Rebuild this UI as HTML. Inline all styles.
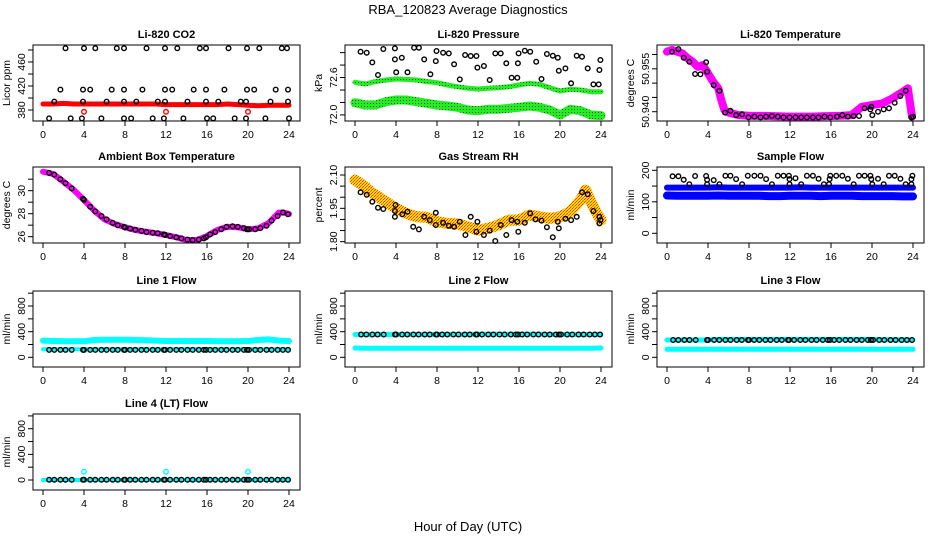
<!DOCTYPE html>
<html><head><meta charset="utf-8"><title>RBA_120823 Average Diagnostics</title>
<style>
html,body{margin:0;padding:0;background:#fff;}
svg{display:block;font-family:"Liberation Sans",Arial,sans-serif;}
</style></head>
<body>
<svg id="chart" width="936" height="540" viewBox="0 0 936 540" xmlns="http://www.w3.org/2000/svg">
<defs>
<pattern id="greenDots" width="3" height="3" patternUnits="userSpaceOnUse"><rect width="3" height="3" fill="#22ee22"/><rect x="1" y="1" width="1" height="1" fill="#115511"/></pattern>
<pattern id="orangeChk" width="3" height="3" patternUnits="userSpaceOnUse"><rect width="3" height="3" fill="#ffdd00"/><rect width="1" height="1" fill="#ff3000"/><rect x="2" y="1" width="1" height="1" fill="#ff3000"/><rect x="1" y="2" width="1" height="1" fill="#ff7000"/></pattern>
</defs>
<text x="468" y="14" text-anchor="middle" font-size="13">RBA_120823  Average Diagnostics</text>
<text x="468" y="531" text-anchor="middle" font-size="13">Hour of Day (UTC)</text>
<g id="plots"></g>
</svg>
<script>
// ---------- data ----------
const xTicks=[0,4,8,12,16,20,24];
// CO2
const co2BandHours=[0,1,2,3,4,5,6,7,8,9,10,11,12,13,14,15,16,17,18,19,20,21,22,23,24];
const co2Band=[390,390,391,390,390,390,390,390,390,390,390,390,389,389,389,389,389,389,390,389,388,387,388,388,388];
const co2RedHours=[4,12,20];
const co2Red=[377,377,377];
const co2BlackHours=[2.2,4.0,5.1,7.2,7.9,10.1,11.9,13.1,15.3,15.9,18.1,19.9,21.1,23.3,23.8,
1.7,3.9,4.6,6.7,7.9,9.7,11.9,12.6,14.7,15.9,17.7,19.9,20.6,22.7,23.9,
1.1,3.9,6.2,7.9,9.1,11.2,11.9,14.1,15.9,17.1,19.3,19.8,22.2,23.9,
0.6,2.7,3.8,5.7,7.9,8.6,10.7,11.8,13.7,16.0,16.6,18.7,19.8,21.7,24.0];
const co2Black=[483,483,483,483,483,483,483,483,483,483,483,483,483,483,483,
414,414,414,414,414,414,414,414,414,414,414,414,414,414,414,
394,394,394,394,394,394,394,394,394,394,394,394,394,394,
366,366,366,366,366,366,366,366,366,366,366,366,366,366,366];
// Pressure
const presHours=[0,1,2,3,4,5,6,7,8,9,10,11,12,13,14,15,16,17,18,19,20,21,22,23,24];
const presUpper=[72.455,72.432,72.464,72.486,72.5,72.495,72.486,72.464,72.45,72.418,72.395,72.373,72.364,72.373,72.382,72.395,72.418,72.441,72.427,72.382,72.336,72.359,72.35,72.327,72.327];
const presLower=[72.177,72.145,72.145,72.191,72.214,72.214,72.191,72.168,72.145,72.132,72.114,72.077,72.068,72.086,72.086,72.1,72.114,72.132,72.114,72.077,72.009,72.086,72.068,72.009,72.0];
const presBlackHours=[0.55,1.14,1.69,2.24,2.76,3.89,3.89,4.02,4.57,5.12,5.77,6.23,6.75,7.36,7.88,7.95,8.6,9.15,9.67,10.22,10.74,11.29,11.84,11.94,12.58,13.14,13.69,14.21,14.76,15.28,15.83,15.89,15.96,16.57,17.09,17.68,18.2,18.72,19.3,19.79,19.88,20.53,21.08,21.63,22.15,22.7,23.26,23.78,23.84,23.94];
const presBlack=[72.873,72.859,72.727,72.555,72.909,72.918,72.768,72.591,72.791,72.591,72.927,72.927,72.768,72.564,72.745,72.882,72.859,72.85,72.7,72.495,72.827,72.814,72.814,72.655,72.677,72.486,72.85,72.85,72.714,72.518,72.518,72.714,72.85,72.886,72.873,72.736,72.5,72.841,72.818,72.791,72.614,72.645,72.441,72.818,72.805,72.645,72.427,72.427,72.623,72.759];
const presTicks=[72.01,72.18,72.35,72.52,72.69,72.86];
const presTickLabels=['72.0','','','72.6','',''];
// Li-820 temperature
const tempBandHours=[0,0.5,1,1.5,2,2.5,3,3.5,4,4.5,5,5.3,5.6,6,7,8,10,12,14,16,17,18,19,20,21,22,23,23.5,23.9];
const tempBand=[50.961,50.9616,50.961,50.9604,50.9587,50.9575,50.9557,50.9563,50.9534,50.9505,50.9482,50.9441,50.9406,50.9397,50.9388,50.9386,50.9385,50.9383,50.9383,50.9385,50.9386,50.9388,50.9417,50.9423,50.9429,50.9447,50.947,50.9482,50.9383];
const tempBlackHours=[0.49,1.11,1.63,2.18,2.74,3.26,3.81,3.91,4.56,5.11,5.67,6.19,6.74,7.33,7.95,8.53,9.12,9.67,10.23,10.81,11.37,11.95,12.54,13.09,13.65,14.23,14.79,15.37,15.93,16.58,17.1,17.65,18.21,18.73,19.28,19.84,19.93,20.03,20.59,21.14,21.66,22.21,22.77,23.29,23.84,24.0];
const tempBlack=[50.961,50.9619,50.9589,50.9575,50.9532,50.9531,50.9573,50.954,50.9493,50.9473,50.9397,50.9403,50.9388,50.9391,50.938,50.9383,50.938,50.9383,50.9385,50.9383,50.938,50.938,50.938,50.938,50.938,50.938,50.938,50.9383,50.938,50.9383,50.9388,50.9383,50.9385,50.9385,50.9412,50.9408,50.9417,50.9388,50.94,50.9408,50.9412,50.9431,50.9455,50.9473,50.938,50.9383];
// Ambient box temperature
const ambBandHours=[0,1,2,3,4,5,6,7,8,9,10,11,12,13,14,15,16,17,18,19,20,21,22,23,23.5,24];
const ambBand=[31.65,31.45,30.78,30.06,29.19,28.26,27.51,27.1,26.82,26.58,26.43,26.3,26.15,25.95,25.71,25.71,26.06,26.58,26.87,26.82,26.64,26.73,27.17,28.09,28.09,27.97];
const sampleHours=[0.6,1.1,1.7,2.2,2.8,3.9,4.0,4.6,5.1,5.7,6.2,6.8,7.3,7.9,8.0,8.5,9.0,9.6,10.1,10.7,11.2,11.8,11.9,12.4,13.0,13.5,14.1,14.6,15.2,15.7,15.9,16.3,16.8,17.4,17.9,18.5,19.0,19.6,19.9,20.1,20.7,21.2,21.8,22.3,22.9,23.4,23.9];
const ambBlack=[31.55,31.4,31.0,30.65,30.2,29.3,29.2,28.6,28.2,27.8,27.5,27.2,27.0,26.85,26.8,26.7,26.6,26.5,26.4,26.35,26.3,26.2,26.15,26.05,25.95,25.85,25.75,25.7,25.75,25.85,25.95,26.2,26.4,26.65,26.85,26.9,26.85,26.75,26.65,26.65,26.65,26.75,26.95,27.4,27.8,28.1,27.95];
// Gas stream RH
const rhBandHours=[0,0.5,1,1.5,2,3,4,5,6,7,8,9,10,11,12,13,14,15,16,17,18,19,20,21,22,22.5,23,23.5,24];
const rhBand=[2.077,2.062,2.047,2.025,2.01,1.98,1.95,1.927,1.912,1.91,1.89,1.882,1.88,1.867,1.852,1.86,1.875,1.897,1.897,1.92,1.912,1.905,1.912,1.935,1.987,2.032,1.98,1.935,1.897];
const rhBlackHours=[0.55,1.14,1.69,2.24,2.76,3.89,3.96,3.89,4.61,5.12,5.68,6.23,6.75,7.3,7.88,7.88,8.6,9.15,9.67,10.22,10.77,11.29,11.94,11.84,12.58,13.14,13.69,14.21,14.76,15.28,15.83,15.93,16.57,17.09,17.61,18.2,18.72,19.3,19.79,19.88,20.53,21.08,21.63,22.15,22.7,23.26,23.84,23.84,23.94];
const rhBlack=[2.022,2.011,1.98,1.953,1.947,1.938,1.965,1.912,1.923,1.935,1.867,1.855,1.912,1.897,1.93,1.875,1.885,1.872,1.867,1.89,1.83,1.912,1.89,1.845,1.83,1.85,1.803,1.875,1.83,1.897,1.89,1.845,1.885,1.927,1.9,1.895,1.865,1.82,1.89,1.86,1.903,1.897,1.912,2.022,2.013,1.938,1.912,1.882,1.897];
// Sample flow
const flowHours=[0,1,2,3,4,5,6,7,8,9,10,11,12,13,14,15,16,17,18,19,20,21,22,23,24];
const sfUpper=[145,145,145,145,145,146,145,145,145,145,145,145,145,146,145,145,145,145,145,145,145,145,145,145,145];
const sfLower=[120,119,119,119,119,120,119,119,119,119,118,118,119,119,119,118,119,119,119,118,118,118,118,117,117];
const sfBlackHours=[0.55,1.11,1.63,2.18,2.74,3.81,3.91,3.91,4.56,5.11,5.7,6.19,6.74,7.33,7.88,8.53,9.12,9.67,10.23,10.81,11.37,11.89,11.95,11.95,12.54,13.09,13.65,14.23,14.79,15.31,15.8,15.86,15.93,16.51,17.1,17.65,18.21,18.73,19.28,19.84,19.93,20.03,20.59,21.14,21.66,22.21,22.77,23.29,23.84,23.84,23.94];
const sfBlack=[181,181,170,156,182,182,170,156,169,156,183,183,172,156,183,183,183,172,156,183,183,183,172,156,175,156,183,183,173,156,156,172,183,183,183,173,156,183,183,183,172,156,173,156,183,183,173,156,156,172,183];
// Line flows
const l1Upper=[260,255,250,250,250,270,275,275,275,270,265,260,255,255,255,255,255,250,250,250,255,270,280,260,255];
const l1Lower=[125,125,125,125,125,125,125,125,125,125,125,125,125,125,125,125,125,125,125,125,125,125,125,125,125];
const l1Black=[115,115,115,115,115,115,115,115,115,115,115,115,115,115,115,115,115,115,115,115,115,115,115,115,115,115,115,115,115,115,115,115,115,115,115,115,115,115,115,115,115,115,115,115,115,115,115];
const l2Upper=[355,355,355,355,355,355,355,355,355,355,355,355,360,360,360,360,360,360,360,355,355,355,355,355,355];
const l2Lower=[145,140,140,140,140,140,140,140,140,140,140,140,140,140,140,140,140,140,140,140,140,140,140,140,145];
const l2Black=[355,355,355,355,355,355,355,355,355,355,355,355,355,355,355,355,355,355,355,355,355,355,355,355,355,355,355,355,355,355,355,355,355,355,355,355,355,355,355,355,355,355,355,355,355,355,355];
const l3Upper=[270,270,270,270,270,280,280,280,280,280,280,280,280,280,280,280,280,280,280,280,280,275,275,275,270];
const l3Lower=[125,125,125,125,125,125,125,125,125,125,125,125,125,125,125,125,125,125,125,125,125,125,125,125,125];
const l3Black=[270,270,270,270,270,270,270,270,270,270,270,270,270,270,270,270,270,270,270,270,270,270,270,270,270,270,270,270,270,270,270,270,270,270,270,270,270,270,270,270,270,270,270,270,270,270,270];
const l4Band=[0,0,0,0,0,0,0,0,0,0,0,0,0,0,0,0,0,0,0,0,0,0,0,0,0];
const l4CyanHours=[4,12,20];
const l4Cyan=[130,130,130];
const l4Black=[5,5,5,5,5,5,5,5,5,5,5,5,5,5,5,5,5,5,5,5,5,5,5,5,5,5,5,5,5,5,5,5,5,5,5,5,5,5,5,5,5,5,5,5,5,5,5];

// ---------- drawing ----------
const NS='http://www.w3.org/2000/svg';
const root=document.getElementById('plots');
const colL=[33,345,657], rowT=[45,167,291,414], PW=267, PH=76;
function el(tag,attrs,parent){const e=document.createElementNS(NS,tag);for(const k in attrs)e.setAttribute(k,attrs[k]);(parent||root).appendChild(e);return e;}

function panel(col,row,key,title,ylab,ylim,yticks,ylabels){
  const L=colL[col],T=rowT[row],B=T+PH;
  const g=el('g',{});
  
  
  const sx=h=>L+10+h*(246/24);
  const sy=v=>B-(v-ylim[0])/(ylim[1]-ylim[0])*PH;
  const t=el('text',{x:L+PW/2,y:T-7,'text-anchor':'middle','font-size':'11','font-weight':'bold'},g);
  t.textContent=title;
  
  
  const ax=el('g',{},g);
  
  
  el('line',{x1:sx(0),x2:sx(24),y1:B,y2:B,stroke:'#000'},ax);
  xTicks.forEach(h=>{
    el('line',{x1:sx(h),x2:sx(h),y1:B,y2:B+5,stroke:'#000'},ax);
    const tl=el('text',{x:sx(h),y:B+17,'text-anchor':'middle','font-size':'10.5'},ax);
    tl.textContent=h;
  });
  const ay=el('g',{},g);
  
  
  el('line',{x1:L,x2:L,y1:sy(yticks[0]),y2:sy(yticks[yticks.length-1]),stroke:'#000'},ay);
  yticks.forEach((v,i)=>{
    const y=sy(v);
    el('line',{x1:L-5,x2:L,y1:y,y2:y,stroke:'#000'},ay);
    if(ylabels[i]){
      const tl=el('text',{transform:`translate(${L-8},${y}) rotate(-90)`,'text-anchor':'middle','font-size':'10.5'},ay);
      tl.textContent=ylabels[i];
    }
  });
  const yt=el('text',{transform:`translate(${L-23},${T+PH/2}) rotate(-90)`,'text-anchor':'middle','font-size':'10.5'},g);
  yt.textContent=ylab;
  
  
  const marks=el('g',{},g);
  
  
  el('rect',{x:L,y:T,width:PW,height:PH,fill:'none',stroke:'#000'},g);
  return {sx,sy,marks};
}
function band(p,xs,ys,color,w,name){
  const pts=xs.map((x,i)=>p.sx(x).toFixed(1)+','+p.sy(ys[i]).toFixed(1)).join(' ');
  const pl=el('polyline',{points:pts,fill:'none',stroke:color,'stroke-width':w,'stroke-linejoin':'round','stroke-linecap':'round'},p.marks);
  
  
}
function pts(p,xs,ys,color,name){
  const g=el('g',{},p.marks);
  
  
  xs.forEach((x,i)=>{el('circle',{cx:p.sx(x).toFixed(1),cy:p.sy(ys[i]).toFixed(1),r:2.3,fill:'none',stroke:color,'stroke-width':1.4},g);});
}

let p;
p=panel(0,0,'co2','Li-820 CO2','Licor ppm',[361.7,488.3],[380,400,420,440,460,480],['380','','420','','460','']);
band(p,co2BandHours,co2Band,'#ff0000',5,'co2-band');
pts(p,co2RedHours,co2Red,'#ff0000','co2-red-points');
pts(p,co2BlackHours,co2Black,'#000','co2-black-points');

p=panel(1,0,'pressure','Li-820 Pressure','kPa',[71.927,72.964],presTicks,presTickLabels);
band(p,presHours,presUpper,'url(#greenDots)',5,'pressure-upper-band');
band(p,presHours,presLower,'url(#greenDots)',9,'pressure-lower-band');
pts(p,presBlackHours,presBlack,'#000','pressure-black-points');

p=panel(2,0,'li820-temp','Li-820 Temperature','degrees C',[50.93675,50.96333],[50.940,50.945,50.950,50.955,50.960],['50.940','','','50.955','']);
band(p,tempBandHours,tempBand,'#ff00ff',8,'li820-temp-band');
pts(p,tempBlackHours,tempBlack,'#000','li820-temp-black-points');

p=panel(0,1,'ambient-temp','Ambient Box Temperature','degrees C',[25.45,32.06],[26,27,28,29,30,31],['26','','28','','30','']);
band(p,ambBandHours,ambBand,'#ff00ff',6,'ambient-temp-band');
pts(p,sampleHours,ambBlack,'#000','ambient-temp-black-points');

p=panel(1,1,'gas-rh','Gas Stream RH','percent',[1.794,2.136],[1.80,1.85,1.90,1.95,2.00,2.05,2.10],['1.80','','','1.95','','','2.10']);
band(p,rhBandHours,rhBand,'url(#orangeChk)',11,'gas-rh-band');
pts(p,rhBlackHours,rhBlack,'#000','gas-rh-black-points');

p=panel(2,1,'sample-flow','Sample Flow','ml/min',[-30.8,210.5],[0,50,100,150,200],['0','','100','','200']);
band(p,flowHours,sfUpper,'#0000ff',6,'sample-flow-upper-band');
band(p,flowHours,sfLower,'#0000ff',8,'sample-flow-lower-band');
pts(p,sfBlackHours,sfBlack,'#000','sample-flow-black-points');

const flowTicks=[0,200,400,600,800,1000], flowLabels=['0','','400','','800',''];
p=panel(0,2,'line1-flow','Line 1 Flow','ml/min',[-151,1034],flowTicks,flowLabels);
band(p,flowHours,l1Upper,'#00ffff',6,'line1-upper-band');
band(p,flowHours,l1Lower,'#00ffff',4,'line1-lower-band');
pts(p,sampleHours,l1Black,'#000','line1-black-points');

p=panel(1,2,'line2-flow','Line 2 Flow','ml/min',[-151,1034],flowTicks,flowLabels);
band(p,flowHours,l2Upper,'#00ffff',5,'line2-upper-band');
band(p,flowHours,l2Lower,'#00ffff',5,'line2-lower-band');
pts(p,sampleHours,l2Black,'#000','line2-black-points');

p=panel(2,2,'line3-flow','Line 3 Flow','ml/min',[-151,1034],flowTicks,flowLabels);
band(p,flowHours,l3Upper,'#00ffff',5,'line3-upper-band');
band(p,flowHours,l3Lower,'#00ffff',5,'line3-lower-band');
pts(p,sampleHours,l3Black,'#000','line3-black-points');

p=panel(0,3,'line4-flow','Line 4 (LT) Flow','ml/min',[-156,1030],flowTicks,flowLabels);
band(p,flowHours,l4Band,'#00ffff',4,'line4-band');
pts(p,l4CyanHours,l4Cyan,'#00ffff','line4-cyan-points');
pts(p,sampleHours,l4Black,'#000','line4-black-points');
</script>
</body></html>
